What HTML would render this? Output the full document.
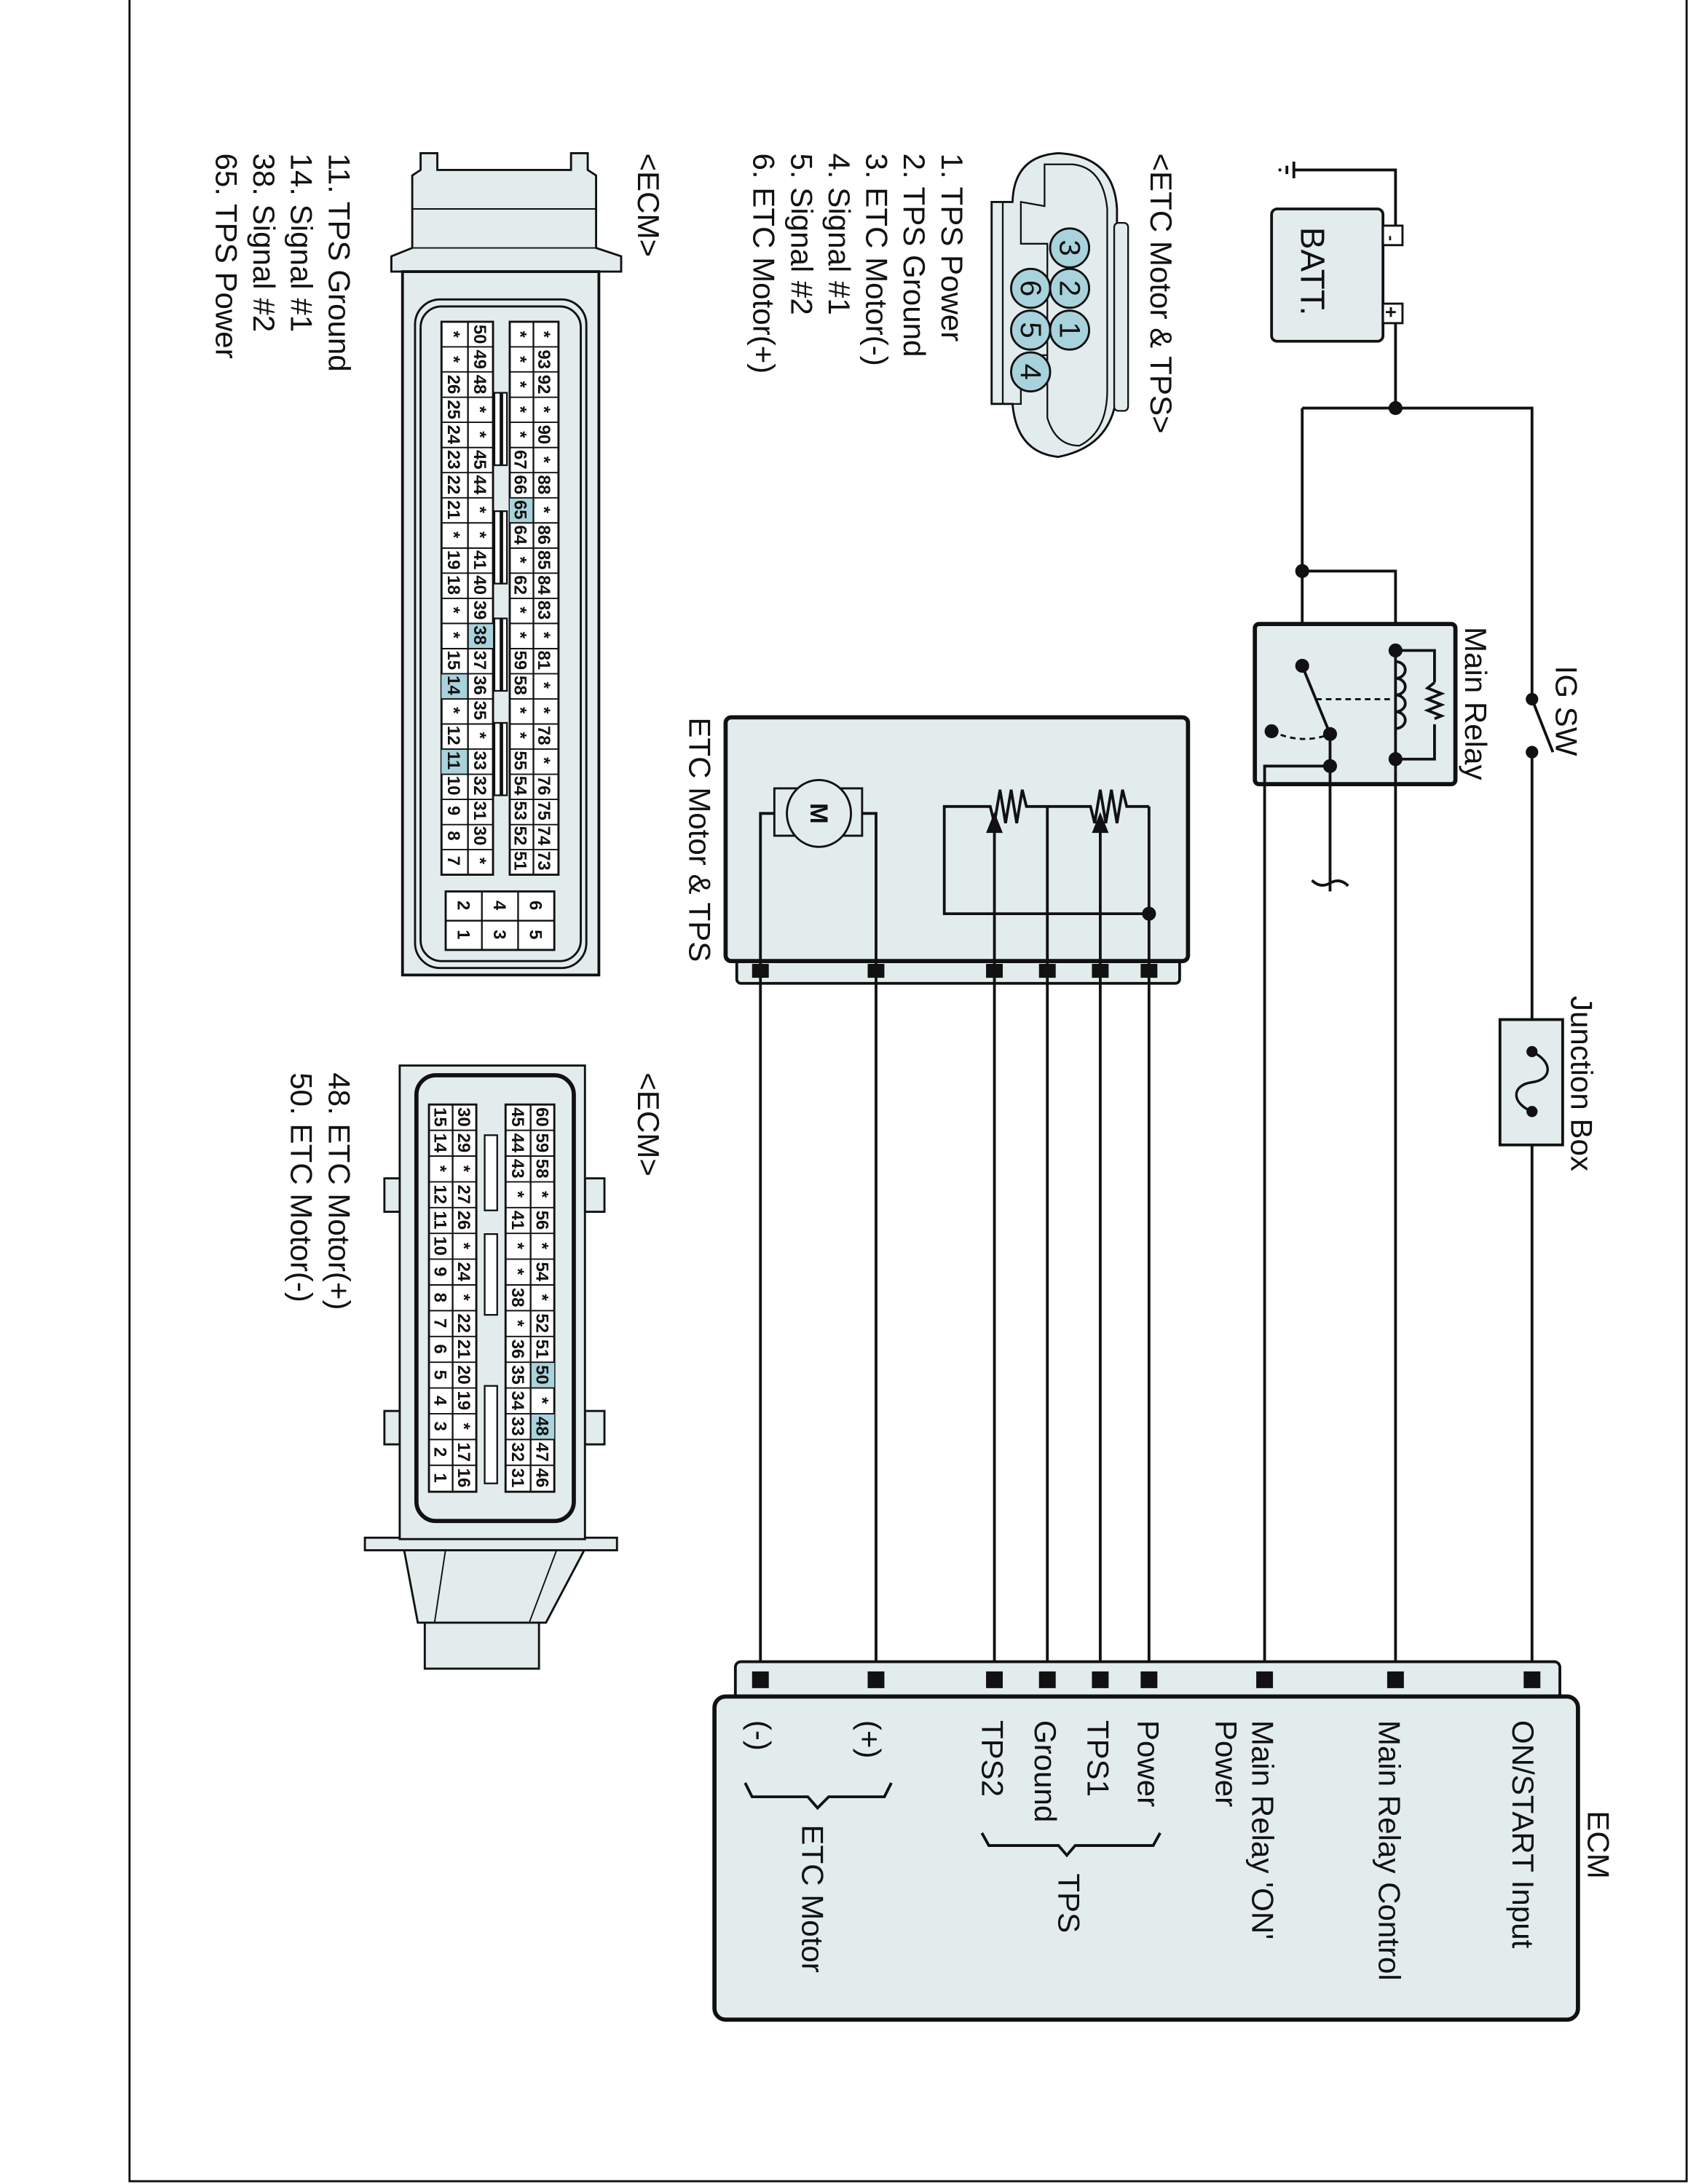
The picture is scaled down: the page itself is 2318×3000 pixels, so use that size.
<!DOCTYPE html>
<html><head><meta charset="utf-8"><style>
html,body{margin:0;padding:0;background:#fff}
svg{display:block}
text{font-family:"Liberation Sans",Arial,sans-serif;fill:#111}
.c{font-size:12.5px;text-anchor:middle;font-weight:bold}
.l{font-size:22px}
.w{stroke:#111;stroke-width:2;fill:none}
.b{fill:#e3eced;stroke:#111;stroke-width:2}
.hl{fill:#a9d3dc}
</style></head><body>
<svg width="2318" height="3000" viewBox="0 0 1212 1568" preserveAspectRatio="none" xmlns="http://www.w3.org/2000/svg">
<rect x="0" y="0" width="1212" height="1568" fill="#fff"/>
<rect x="93" y="-2" width="1118" height="1568" fill="none" stroke="#111" stroke-width="1.5"/>

<!-- ground & battery -->
<g class="w">
<path d="M929,116 L929,128 M924,119 L924,125 M919,121 L919,123"/>
<path d="M929,122 L1002,122 L1002,168 L993,168"/>
<path d="M993,225 L1002,225 L1002,293"/>
<path d="M935,293 L1100,293 L1100,502"/>
<path d="M935,293 L935,410 L1002,410 L1002,465"/>
<path d="M935,410 L935,478"/>
</g>
<rect x="913" y="150" width="80" height="95" rx="4" class="b"/>
<rect x="993" y="162" width="14" height="14" fill="#fff" stroke="#111" stroke-width="1.5"/>
<rect x="993" y="218" width="14" height="14" fill="#fff" stroke="#111" stroke-width="1.5"/>
<text transform="translate(995,169) rotate(90)" style="font-size:12px;font-weight:bold">-</text>
<text transform="translate(994,220) rotate(90)" style="font-size:14px;font-weight:bold">+</text>
<text transform="translate(934,163) rotate(90)" style="font-size:24px">BATT.</text>
<circle cx="1002" cy="293" r="5" fill="#111"/>
<circle cx="935" cy="410" r="5" fill="#111"/>

<!-- IG SW -->
<circle cx="1100" cy="502" r="4.5" fill="#111"/>
<circle cx="1100" cy="540" r="4.5" fill="#111"/>
<path d="M1100,502 L1115,540" class="w"/>
<text class="l" transform="translate(1117,478) rotate(90)">IG SW</text>

<!-- main relay -->
<rect x="901" y="448" width="144" height="115" rx="3" class="b" style="stroke-width:3"/>
<text class="l" transform="translate(1052,450) rotate(90)">Main Relay</text>
<g class="w">
<path d="M1002,465 L1002,552"/>
<path d="M1002,467 L1030,467 L1030,490 M1030,520 L1030,545 L1002,545"/>
<path d="M1030,490 l-5,4 l10,4 l-10,4 l10,4 l-10,4 l10,4 l-5,2"/>
<path d="M1002,475 a7,6 0 0 1 0,12 a7,6 0 0 1 0,12 a7,6 0 0 1 0,12 a7,6 0 0 1 0,12" />
<path d="M935,478 L955,527"/>
<path d="M945,502 L1002,502" stroke-dasharray="4,3" stroke-width="1.5"/>
<path d="M913,525 Q935,535 955,527" stroke-dasharray="4,3" stroke-width="1.5"/>
<path d="M955,527 L955,640"/>
<path d="M908,1205 L908,550 L955,550"/>
<path d="M942,632 q6,6 13,2 q7,-4 13,2"/>
<path d="M1002,552 L1002,1205"/>
<path d="M1100,540 L1100,1205"/>
</g>
<circle cx="1002" cy="467" r="5" fill="#111"/>
<circle cx="1002" cy="545" r="5" fill="#111"/>
<circle cx="935" cy="478" r="5" fill="#111"/>
<circle cx="955" cy="527" r="5" fill="#111"/>
<circle cx="955" cy="550" r="5" fill="#111"/>
<circle cx="913" cy="525" r="5" fill="#111"/>

<!-- junction box -->
<rect x="1077" y="732" width="45" height="90" fill="#e3eced" stroke="#111" stroke-width="2"/>
<circle cx="1100" cy="755" r="4" fill="#111"/>
<circle cx="1100" cy="798" r="4" fill="#111"/>
<path d="M1100,755 C1115,762 1115,775 1100,777 C1085,779 1085,792 1100,798" class="w" style="stroke-width:1.8"/>
<text class="l" transform="translate(1128,715) rotate(90)">Junction Box</text>

<!-- ETC motor & TPS box -->
<rect x="529" y="685" width="318" height="21" rx="3" class="b"/>
<rect x="521" y="515" width="332" height="175" rx="4" class="b" style="stroke-width:3"/>
<text class="l" transform="translate(495,515) rotate(90)">ETC Motor &amp; TPS</text>
<g class="w">
<path d="M546,1205 L546,584 L557,584 M619,584 L629,584 L629,1205"/>
<path d="M714,1205 L714,590 M790,1205 L790,590 M752,1205 L752,579 M825,1205 L825,579"/>
<path d="M825,579 L809,579 l-3,-12 l-4,24 l-4,-24 l-4,24 l-4,-24 l-4,24 l-3,-12 L737,579 l-3,-12 l-4,24 l-4,-24 l-4,24 l-4,-24 l-4,24 l-3,-12 L678,579 L678,656 L825,656"/>
</g>
<rect x="556" y="566" width="63" height="34" fill="#e3eced" stroke="#111" stroke-width="1.5"/>
<ellipse cx="588" cy="584" rx="23" ry="24" fill="#e3eced" stroke="#111" stroke-width="1.5"/>
<text transform="translate(582,584) rotate(90)" style="font-size:18px;font-weight:bold;text-anchor:middle">M</text>
<path d="M714,583 L708,598 L720,598 Z M790,583 L784,598 L796,598 Z" fill="#111"/>
<circle cx="825" cy="656" r="5" fill="#111"/>
<g fill="#111">
<rect x="540" y="692" width="12" height="10"/><rect x="623" y="692" width="12" height="10"/>
<rect x="708" y="692" width="12" height="10"/><rect x="746" y="692" width="12" height="10"/>
<rect x="784" y="692" width="12" height="10"/><rect x="819" y="692" width="12" height="10"/>
</g>

<!-- ECM box -->
<rect x="528" y="1193" width="592" height="30" rx="4" class="b"/>
<rect x="513" y="1218" width="620" height="232" rx="8" class="b" style="stroke-width:3"/>
<g fill="#111">
<rect x="540" y="1200" width="12" height="12"/><rect x="623" y="1200" width="12" height="12"/>
<rect x="708" y="1200" width="12" height="12"/><rect x="746" y="1200" width="12" height="12"/>
<rect x="784" y="1200" width="12" height="12"/><rect x="819" y="1200" width="12" height="12"/>
<rect x="902" y="1200" width="12" height="12"/><rect x="996" y="1200" width="12" height="12"/>
<rect x="1094" y="1200" width="12" height="12"/>
</g>
<text class="l" transform="translate(1140,1300) rotate(90)">ECM</text>
<text class="l" transform="translate(1086,1235) rotate(90)">ON/START Input</text>
<text class="l" transform="translate(990,1235) rotate(90)">Main Relay Control</text>
<text class="l" transform="translate(899,1235) rotate(90)">Main Relay 'ON'</text>
<text class="l" transform="translate(873,1235) rotate(90)">Power</text>
<text class="l" transform="translate(817,1235) rotate(90)">Power</text>
<text class="l" transform="translate(781,1235) rotate(90)">TPS1</text>
<text class="l" transform="translate(743,1235) rotate(90)">Ground</text>
<text class="l" transform="translate(705,1235) rotate(90)">TPS2</text>
<text class="l" transform="translate(617,1235) rotate(90)">(+)</text>
<text class="l" transform="translate(538,1235) rotate(90)">(-)</text>
<path d="M833,1316 L828,1325 L772,1325 L766,1332 L760,1325 L710,1325 L705,1316" class="w"/>
<text class="l" transform="translate(760,1345) rotate(90)">TPS</text>
<path d="M640,1280 L635,1290 L595,1290 L587,1298 L580,1290 L540,1290 L535,1280" class="w"/>
<text class="l" transform="translate(576,1310) rotate(90)">ETC Motor</text>

<!-- 6 pin connector -->
<path d="M712,145 L712,290 L727,290 Q730,325 760,328 Q800,320 802,280 L802,150 Q800,112 760,110 Q728,112 727,145 Z" class="b" style="stroke-width:1.5"/>
<path d="M720,145 L720,290 L733,290 L733,255 L752,255 L752,240 M733,145 L733,175 L752,175 L752,300 Q758,320 775,320 Q795,310 795,280 L795,150 Q792,120 770,118 L750,118 L750,148 Z" fill="none" stroke="#111" stroke-width="1.2"/>
<rect x="800" y="160" width="10" height="135" rx="3" fill="#e3eced" stroke="#111" stroke-width="1.2"/>
<g fill="#a9d3dc" stroke="#111" stroke-width="1.5">
<circle cx="768" cy="178" r="14"/><circle cx="768" cy="207" r="14"/><circle cx="768" cy="237" r="14"/>
<circle cx="740" cy="207" r="14"/><circle cx="740" cy="237" r="14"/><circle cx="740" cy="267" r="14"/>
</g>
<g style="font-size:21px;text-anchor:middle">
<text transform="translate(768,178) rotate(90)" dy="7">3</text><text transform="translate(768,207) rotate(90)" dy="7">2</text><text transform="translate(768,237) rotate(90)" dy="7">1</text>
<text transform="translate(740,207) rotate(90)" dy="7">6</text><text transform="translate(740,237) rotate(90)" dy="7">5</text><text transform="translate(740,267) rotate(90)" dy="7">4</text>
</g>
<text class="l" transform="translate(826,110) rotate(90)">&lt;ETC Motor &amp; TPS&gt;</text>
<text class="l" transform="translate(676,110) rotate(90)">1. TPS Power</text>
<text class="l" transform="translate(649,110) rotate(90)">2. TPS Ground</text>
<text class="l" transform="translate(622,110) rotate(90)">3. ETC Motor(-)</text>
<text class="l" transform="translate(595,110) rotate(90)">4. Signal #1</text>
<text class="l" transform="translate(568,110) rotate(90)">5. Signal #2</text>
<text class="l" transform="translate(541,110) rotate(90)">6. ETC Motor(+)</text>

<!-- ECM connector 1 -->
<text class="l" transform="translate(458,110) rotate(90)">&lt;ECM&gt;</text>
<text class="l" transform="translate(236,110) rotate(90)">11. TPS Ground</text>
<text class="l" transform="translate(209,110) rotate(90)">14. Signal #1</text>
<text class="l" transform="translate(182,110) rotate(90)">38. Signal #2</text>
<text class="l" transform="translate(155,110) rotate(90)">65. TPS Power</text>

<path d="M302,110 L302,122 L296,126 L296,178 L281,184 L281,195 L446,195 L446,184 L428,178 L428,126 L422,122 L422,110 L410,110 L410,122 L314,122 L314,110 Z" class="b" style="stroke-width:1.5"/>
<path d="M296,150 L428,150 M296,178 L428,178" class="w" style="stroke-width:1"/>
<rect x="289" y="195" width="141" height="505" class="b"/>
<rect x="298" y="215" width="123" height="480" rx="18" fill="none" stroke="#111" stroke-width="1.5"/>
<rect x="302" y="220" width="115" height="470" rx="15" fill="none" stroke="#111" stroke-width="1.5"/>
<rect x="317" y="231" width="37" height="397" fill="#fff" stroke="#111" stroke-width="1.5"/>
<rect x="366" y="231" width="35" height="397" fill="#fff" stroke="#111" stroke-width="1.5"/>
<g fill="#a9d3dc">
<rect x="366" y="357.4" width="17" height="18"/>
<rect x="336" y="447.6" width="18" height="18"/>
<rect x="317" y="483.7" width="19" height="18"/>
<rect x="317" y="537.8" width="19" height="18"/>
</g>
<path d="M336,231 V628 M383,231 V628" stroke="#111" stroke-width="1.2"/>
<path stroke="#111" stroke-width="1" d="M317,249 H354 M317,267 H354 M317,285.2 H354 M317,303.2 H354 M317,321.3 H354 M317,339.3 H354 M317,357.4 H354 M317,375.4 H354 M317,393.5 H354 M317,411.5 H354 M317,429.6 H354 M317,447.6 H354 M317,465.7 H354 M317,483.7 H354 M317,501.8 H354 M317,519.8 H354 M317,537.8 H354 M317,555.9 H354 M317,573.9 H354 M317,592 H354 M317,610 H354
M366,249 H401 M366,267 H401 M366,285.2 H401 M366,303.2 H401 M366,321.3 H401 M366,339.3 H401 M366,357.4 H401 M366,375.4 H401 M366,393.5 H401 M366,411.5 H401 M366,429.6 H401 M366,447.6 H401 M366,465.7 H401 M366,483.7 H401 M366,501.8 H401 M366,519.8 H401 M366,537.8 H401 M366,555.9 H401 M366,573.9 H401 M366,592 H401 M366,610 H401"/>
<g fill="#fff" stroke="#111" stroke-width="1.2">
<rect x="355" y="282" width="9" height="52"/><rect x="355" y="367" width="9" height="52"/>
<rect x="355" y="444" width="9" height="52"/><rect x="355" y="519" width="9" height="52"/>
</g>
<path d="M360,282 V334 M360,367 V419 M360,444 V496 M360,519 V571" stroke="#111" stroke-width="2.5"/>
<g class="c">
<text transform="translate(391,240) rotate(90)" dy="4.5">*</text><text transform="translate(391,258) rotate(90)" dy="4.5">93</text><text transform="translate(391,276) rotate(90)" dy="4.5">92</text><text transform="translate(391,294) rotate(90)" dy="4.5">*</text><text transform="translate(391,312) rotate(90)" dy="4.5">90</text><text transform="translate(391,330) rotate(90)" dy="4.5">*</text><text transform="translate(391,348) rotate(90)" dy="4.5">88</text><text transform="translate(391,366) rotate(90)" dy="4.5">*</text><text transform="translate(391,384) rotate(90)" dy="4.5">86</text><text transform="translate(391,402) rotate(90)" dy="4.5">85</text><text transform="translate(391,420) rotate(90)" dy="4.5">84</text><text transform="translate(391,438) rotate(90)" dy="4.5">83</text><text transform="translate(391,456) rotate(90)" dy="4.5">*</text><text transform="translate(391,474) rotate(90)" dy="4.5">81</text><text transform="translate(391,492) rotate(90)" dy="4.5">*</text><text transform="translate(391,510) rotate(90)" dy="4.5">*</text><text transform="translate(391,528) rotate(90)" dy="4.5">78</text><text transform="translate(391,546) rotate(90)" dy="4.5">*</text><text transform="translate(391,564) rotate(90)" dy="4.5">76</text><text transform="translate(391,582) rotate(90)" dy="4.5">75</text><text transform="translate(391,600) rotate(90)" dy="4.5">74</text><text transform="translate(391,618) rotate(90)" dy="4.5">73</text>
<text transform="translate(374,240) rotate(90)" dy="4.5">*</text><text transform="translate(374,258) rotate(90)" dy="4.5">*</text><text transform="translate(374,276) rotate(90)" dy="4.5">*</text><text transform="translate(374,294) rotate(90)" dy="4.5">*</text><text transform="translate(374,312) rotate(90)" dy="4.5">*</text><text transform="translate(374,330) rotate(90)" dy="4.5">67</text><text transform="translate(374,348) rotate(90)" dy="4.5">66</text><text transform="translate(374,366) rotate(90)" dy="4.5">65</text><text transform="translate(374,384) rotate(90)" dy="4.5">64</text><text transform="translate(374,402) rotate(90)" dy="4.5">*</text><text transform="translate(374,420) rotate(90)" dy="4.5">62</text><text transform="translate(374,438) rotate(90)" dy="4.5">*</text><text transform="translate(374,456) rotate(90)" dy="4.5">*</text><text transform="translate(374,474) rotate(90)" dy="4.5">59</text><text transform="translate(374,492) rotate(90)" dy="4.5">58</text><text transform="translate(374,510) rotate(90)" dy="4.5">*</text><text transform="translate(374,528) rotate(90)" dy="4.5">*</text><text transform="translate(374,546) rotate(90)" dy="4.5">55</text><text transform="translate(374,564) rotate(90)" dy="4.5">54</text><text transform="translate(374,582) rotate(90)" dy="4.5">53</text><text transform="translate(374,600) rotate(90)" dy="4.5">52</text><text transform="translate(374,618) rotate(90)" dy="4.5">51</text>
<text transform="translate(345,240) rotate(90)" dy="4.5">50</text><text transform="translate(345,258) rotate(90)" dy="4.5">49</text><text transform="translate(345,276) rotate(90)" dy="4.5">48</text><text transform="translate(345,294) rotate(90)" dy="4.5">*</text><text transform="translate(345,312) rotate(90)" dy="4.5">*</text><text transform="translate(345,330) rotate(90)" dy="4.5">45</text><text transform="translate(345,348) rotate(90)" dy="4.5">44</text><text transform="translate(345,366) rotate(90)" dy="4.5">*</text><text transform="translate(345,384) rotate(90)" dy="4.5">*</text><text transform="translate(345,402) rotate(90)" dy="4.5">41</text><text transform="translate(345,420) rotate(90)" dy="4.5">40</text><text transform="translate(345,438) rotate(90)" dy="4.5">39</text><text transform="translate(345,456) rotate(90)" dy="4.5">38</text><text transform="translate(345,474) rotate(90)" dy="4.5">37</text><text transform="translate(345,492) rotate(90)" dy="4.5">36</text><text transform="translate(345,510) rotate(90)" dy="4.5">35</text><text transform="translate(345,528) rotate(90)" dy="4.5">*</text><text transform="translate(345,546) rotate(90)" dy="4.5">33</text><text transform="translate(345,564) rotate(90)" dy="4.5">32</text><text transform="translate(345,582) rotate(90)" dy="4.5">31</text><text transform="translate(345,600) rotate(90)" dy="4.5">30</text><text transform="translate(345,618) rotate(90)" dy="4.5">*</text>
<text transform="translate(326,240) rotate(90)" dy="4.5">*</text><text transform="translate(326,258) rotate(90)" dy="4.5">*</text><text transform="translate(326,276) rotate(90)" dy="4.5">26</text><text transform="translate(326,294) rotate(90)" dy="4.5">25</text><text transform="translate(326,312) rotate(90)" dy="4.5">24</text><text transform="translate(326,330) rotate(90)" dy="4.5">23</text><text transform="translate(326,348) rotate(90)" dy="4.5">22</text><text transform="translate(326,366) rotate(90)" dy="4.5">21</text><text transform="translate(326,384) rotate(90)" dy="4.5">*</text><text transform="translate(326,402) rotate(90)" dy="4.5">19</text><text transform="translate(326,420) rotate(90)" dy="4.5">18</text><text transform="translate(326,438) rotate(90)" dy="4.5">*</text><text transform="translate(326,456) rotate(90)" dy="4.5">*</text><text transform="translate(326,474) rotate(90)" dy="4.5">15</text><text transform="translate(326,492) rotate(90)" dy="4.5">14</text><text transform="translate(326,510) rotate(90)" dy="4.5">*</text><text transform="translate(326,528) rotate(90)" dy="4.5">12</text><text transform="translate(326,546) rotate(90)" dy="4.5">11</text><text transform="translate(326,564) rotate(90)" dy="4.5">10</text><text transform="translate(326,582) rotate(90)" dy="4.5">9</text><text transform="translate(326,600) rotate(90)" dy="4.5">8</text><text transform="translate(326,618) rotate(90)" dy="4.5">7</text>
</g>
<rect x="320" y="640" width="78" height="42" fill="#fff" stroke="#111" stroke-width="1.5"/>
<path d="M320,661 H398 M346,640 V682 M372,640 V682" stroke="#111" stroke-width="1.2"/>
<g class="c">
<text transform="translate(385,650) rotate(90)" dy="4.5">6</text><text transform="translate(359,650) rotate(90)" dy="4.5">4</text><text transform="translate(333,650) rotate(90)" dy="4.5">2</text>
<text transform="translate(385,671) rotate(90)" dy="4.5">5</text><text transform="translate(359,671) rotate(90)" dy="4.5">3</text><text transform="translate(333,671) rotate(90)" dy="4.5">1</text>
</g>

<!-- ECM connector 2 -->
<text class="l" transform="translate(458,770) rotate(90)">&lt;ECM&gt;</text>
<text class="l" transform="translate(236,770) rotate(90)">48. ETC Motor(+)</text>
<text class="l" transform="translate(209,770) rotate(90)">50. ETC Motor(-)</text>
<path d="M290,1112 L420,1112 L392,1165 L300,1165 Z" class="b" style="stroke-width:1.5"/>
<path d="M320,1112 L312,1165 M400,1112 L380,1165" class="w" style="stroke-width:1"/>
<rect x="305" y="1165" width="82" height="33" class="b" style="stroke-width:1.5"/>
<rect x="262" y="1104" width="181" height="9" class="b" style="stroke-width:1.5"/>
<rect x="420" y="846" width="14" height="24" class="b" style="stroke-width:1.5"/>
<rect x="420" y="1013" width="14" height="24" class="b" style="stroke-width:1.5"/>
<rect x="276" y="846" width="12" height="24" class="b" style="stroke-width:1.5"/>
<rect x="276" y="1013" width="12" height="24" class="b" style="stroke-width:1.5"/>
<rect x="287" y="765" width="133" height="340" class="b" style="stroke-width:1.5"/>
<rect x="299" y="772" width="113" height="320" rx="14" fill="none" stroke="#111" stroke-width="3"/>
<rect x="308" y="793" width="34" height="278" fill="#fff" stroke="#111" stroke-width="1.5"/>
<rect x="363" y="793" width="35" height="278" fill="#fff" stroke="#111" stroke-width="1.5"/>
<g fill="#a9d3dc">
<rect x="381" y="978" width="17" height="18.5"/>
<rect x="381" y="1015" width="17" height="18.5"/>
</g>
<path d="M325,793 V1071 M381,793 V1071" stroke="#111" stroke-width="1.2"/>
<path stroke="#111" stroke-width="1" d="M308,811.5 H342 M308,830 H342 M308,848.5 H342 M308,867 H342 M308,885.5 H342 M308,904 H342 M308,922.5 H342 M308,941 H342 M308,959.5 H342 M308,978 H342 M308,996.5 H342 M308,1015 H342 M308,1033.5 H342 M308,1052 H342
M363,811.5 H398 M363,830 H398 M363,848.5 H398 M363,867 H398 M363,885.5 H398 M363,904 H398 M363,922.5 H398 M363,941 H398 M363,959.5 H398 M363,978 H398 M363,996.5 H398 M363,1015 H398 M363,1033.5 H398 M363,1052 H398"/>
<g fill="#fff" stroke="#111" stroke-width="1.2">
<rect x="348" y="815" width="9" height="54"/>
<rect x="348" y="886" width="9" height="58"/>
<rect x="348" y="995" width="9" height="70"/>
</g>
<g class="c">
<text transform="translate(389.5,802) rotate(90)" dy="4.5">60</text><text transform="translate(389.5,820.5) rotate(90)" dy="4.5">59</text><text transform="translate(389.5,839) rotate(90)" dy="4.5">58</text><text transform="translate(389.5,857.5) rotate(90)" dy="4.5">*</text><text transform="translate(389.5,876) rotate(90)" dy="4.5">56</text><text transform="translate(389.5,894.5) rotate(90)" dy="4.5">*</text><text transform="translate(389.5,913) rotate(90)" dy="4.5">54</text><text transform="translate(389.5,931.5) rotate(90)" dy="4.5">*</text><text transform="translate(389.5,950) rotate(90)" dy="4.5">52</text><text transform="translate(389.5,968.5) rotate(90)" dy="4.5">51</text><text transform="translate(389.5,987) rotate(90)" dy="4.5">50</text><text transform="translate(389.5,1005.5) rotate(90)" dy="4.5">*</text><text transform="translate(389.5,1024) rotate(90)" dy="4.5">48</text><text transform="translate(389.5,1042.5) rotate(90)" dy="4.5">47</text><text transform="translate(389.5,1061) rotate(90)" dy="4.5">46</text>
<text transform="translate(372,802) rotate(90)" dy="4.5">45</text><text transform="translate(372,820.5) rotate(90)" dy="4.5">44</text><text transform="translate(372,839) rotate(90)" dy="4.5">43</text><text transform="translate(372,857.5) rotate(90)" dy="4.5">*</text><text transform="translate(372,876) rotate(90)" dy="4.5">41</text><text transform="translate(372,894.5) rotate(90)" dy="4.5">*</text><text transform="translate(372,913) rotate(90)" dy="4.5">*</text><text transform="translate(372,931.5) rotate(90)" dy="4.5">38</text><text transform="translate(372,950) rotate(90)" dy="4.5">*</text><text transform="translate(372,968.5) rotate(90)" dy="4.5">36</text><text transform="translate(372,987) rotate(90)" dy="4.5">35</text><text transform="translate(372,1005.5) rotate(90)" dy="4.5">34</text><text transform="translate(372,1024) rotate(90)" dy="4.5">33</text><text transform="translate(372,1042.5) rotate(90)" dy="4.5">32</text><text transform="translate(372,1061) rotate(90)" dy="4.5">31</text>
<text transform="translate(333.5,802) rotate(90)" dy="4.5">30</text><text transform="translate(333.5,820.5) rotate(90)" dy="4.5">29</text><text transform="translate(333.5,839) rotate(90)" dy="4.5">*</text><text transform="translate(333.5,857.5) rotate(90)" dy="4.5">27</text><text transform="translate(333.5,876) rotate(90)" dy="4.5">26</text><text transform="translate(333.5,894.5) rotate(90)" dy="4.5">*</text><text transform="translate(333.5,913) rotate(90)" dy="4.5">24</text><text transform="translate(333.5,931.5) rotate(90)" dy="4.5">*</text><text transform="translate(333.5,950) rotate(90)" dy="4.5">22</text><text transform="translate(333.5,968.5) rotate(90)" dy="4.5">21</text><text transform="translate(333.5,987) rotate(90)" dy="4.5">20</text><text transform="translate(333.5,1005.5) rotate(90)" dy="4.5">19</text><text transform="translate(333.5,1024) rotate(90)" dy="4.5">*</text><text transform="translate(333.5,1042.5) rotate(90)" dy="4.5">17</text><text transform="translate(333.5,1061) rotate(90)" dy="4.5">16</text>
<text transform="translate(316.5,802) rotate(90)" dy="4.5">15</text><text transform="translate(316.5,820.5) rotate(90)" dy="4.5">14</text><text transform="translate(316.5,839) rotate(90)" dy="4.5">*</text><text transform="translate(316.5,857.5) rotate(90)" dy="4.5">12</text><text transform="translate(316.5,876) rotate(90)" dy="4.5">11</text><text transform="translate(316.5,894.5) rotate(90)" dy="4.5">10</text><text transform="translate(316.5,913) rotate(90)" dy="4.5">9</text><text transform="translate(316.5,931.5) rotate(90)" dy="4.5">8</text><text transform="translate(316.5,950) rotate(90)" dy="4.5">7</text><text transform="translate(316.5,968.5) rotate(90)" dy="4.5">6</text><text transform="translate(316.5,987) rotate(90)" dy="4.5">5</text><text transform="translate(316.5,1005.5) rotate(90)" dy="4.5">4</text><text transform="translate(316.5,1024) rotate(90)" dy="4.5">3</text><text transform="translate(316.5,1042.5) rotate(90)" dy="4.5">2</text><text transform="translate(316.5,1061) rotate(90)" dy="4.5">1</text>
</g>
</svg>
</body></html>
